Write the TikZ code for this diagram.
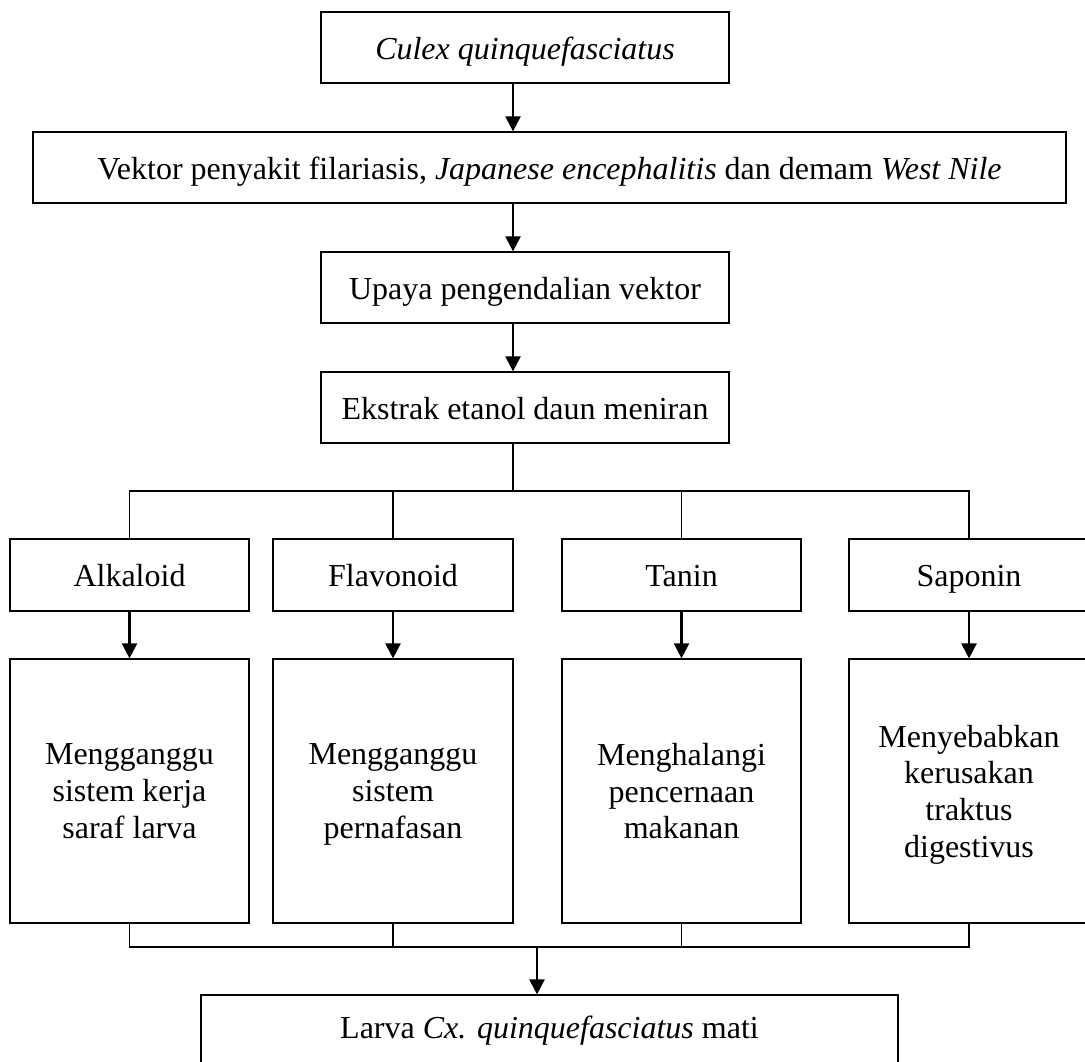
\documentclass[tikz,border=0pt]{standalone}
\usepackage{fontspec}
\setmainfont{Liberation Serif}
\usetikzlibrary{arrows.meta}

\begin{document}
\begin{tikzpicture}[
x=0.5pt,y=-0.5pt,
font=\fontsize{16}{18.3}\selectfont,
box/.style={draw,line width=0.6pt,fill=white,align=center,inner sep=0pt,
  execute at begin node={\rule{0pt}{15pt}},
  execute at end node={\rule[-3.5pt]{0pt}{0pt}}},
tallbox/.style={box,minimum height=132pt,text depth=-2pt},
link/.style={line width=0.6pt},
arw/.style={line width=1.1pt,-{Triangle[width=7.5pt,length=7.5pt]}}
]

\useasboundingbox (0,0) rectangle (1085,1061);

%%%%%%%%%%%%%%%%%%%%%%%%%%%%%%%%%%%%%%%%%%%%%%%%%%%%%%
% TOP CHAIN
%%%%%%%%%%%%%%%%%%%%%%%%%%%%%%%%%%%%%%%%%%%%%%%%%%%%%%

\node[
box,
minimum width=204pt,
minimum height=35.5pt
](culex)
at (525,47.5)
{\textit{Culex quinquefasciatus}};

\node[
box,
minimum width=516.5pt,
minimum height=35.5pt
](vektor)
at (549.5,167.5)
{Vektor penyakit filariasis, \textit{Japanese encephalitis} dan demam \textit{West Nile}};

\node[
box,
minimum width=204pt,
minimum height=35.5pt
](upaya)
at (525,287.5)
{Upaya pengendalian vektor};

\node[
box,
minimum width=204pt,
minimum height=35.5pt
](ekstrak)
at (525,407.5)
{Ekstrak etanol daun meniran};

%%%%%%%%%%%%%%%%%%%%%%%%%%%%%%%%%%%%%%%%%%%%%%%%%%%%%%
% COMPOUNDS
%%%%%%%%%%%%%%%%%%%%%%%%%%%%%%%%%%%%%%%%%%%%%%%%%%%%%%

\node[box,minimum width=119.5pt,minimum height=36pt](alkaloid) at (129.5,575) {Alkaloid};
\node[box,minimum width=120pt,minimum height=36pt](flavonoid) at (393,575) {Flavonoid};
\node[box,minimum width=119.5pt,minimum height=36pt](tanin) at (681.5,575) {Tanin};
\node[box,minimum width=120pt,minimum height=36pt](saponin) at (969,575) {Saponin};

%%%%%%%%%%%%%%%%%%%%%%%%%%%%%%%%%%%%%%%%%%%%%%%%%%%%%%
% EFFECTS
%%%%%%%%%%%%%%%%%%%%%%%%%%%%%%%%%%%%%%%%%%%%%%%%%%%%%%

\node[tallbox,minimum width=119.5pt](saraf) at (129.5,791)
{Mengganggu\\sistem kerja\\saraf larva};
\node[tallbox,minimum width=120pt](napas) at (393,791)
{Mengganggu\\sistem\\pernafasan};
\node[tallbox,minimum width=119.5pt](cerna) at (681.5,791)
{Menghalangi\\pencernaan\\makanan};
\node[tallbox,minimum width=120pt](traktus) at (969,791)
{Menyebabkan\\kerusakan\\traktus\\digestivus};

%%%%%%%%%%%%%%%%%%%%%%%%%%%%%%%%%%%%%%%%%%%%%%%%%%%%%%
% RESULT
%%%%%%%%%%%%%%%%%%%%%%%%%%%%%%%%%%%%%%%%%%%%%%%%%%%%%%

\node[
box,
execute at begin node=\strut,
execute at end node=\strut,
minimum width=348.5pt,
minimum height=34pt
](larva)
at (549.5,1029)
{Larva \textit{Cx. quinquefasciatus} mati};

%%%%%%%%%%%%%%%%%%%%%%%%%%%%%%%%%%%%%%%%%%%%%%%%%%%%%%
% LINES
%%%%%%%%%%%%%%%%%%%%%%%%%%%%%%%%%%%%%%%%%%%%%%%%%%%%%%

\coordinate (split) at (513,491);
\coordinate (join) at (537,947);

\draw[arw] (culex.south -| split) -- (vektor.north -| split);
\draw[arw] (vektor.south -| split) -- (upaya.north -| split);
\draw[arw] (upaya.south -| split) -- (ekstrak.north -| split);

\draw[link] (ekstrak.south -| split) -- (split);
\draw[link] (alkaloid.north) |- (split) -| (saponin.north);
\draw[link] (flavonoid.north) -- (flavonoid.north |- split);
\draw[link] (tanin.north) -- (tanin.north |- split);

\foreach \a/\b in {alkaloid/saraf,flavonoid/napas,tanin/cerna,saponin/traktus}
  \draw[arw] (\a.south) -- (\b.north);

\draw[link] (saraf.south) |- (join) -| (traktus.south);
\draw[link] (napas.south) -- (napas.south |- join);
\draw[link] (cerna.south) -- (cerna.south |- join);

\draw[arw] (join) -- (larva.north -| join);

\end{tikzpicture}
\end{document}
